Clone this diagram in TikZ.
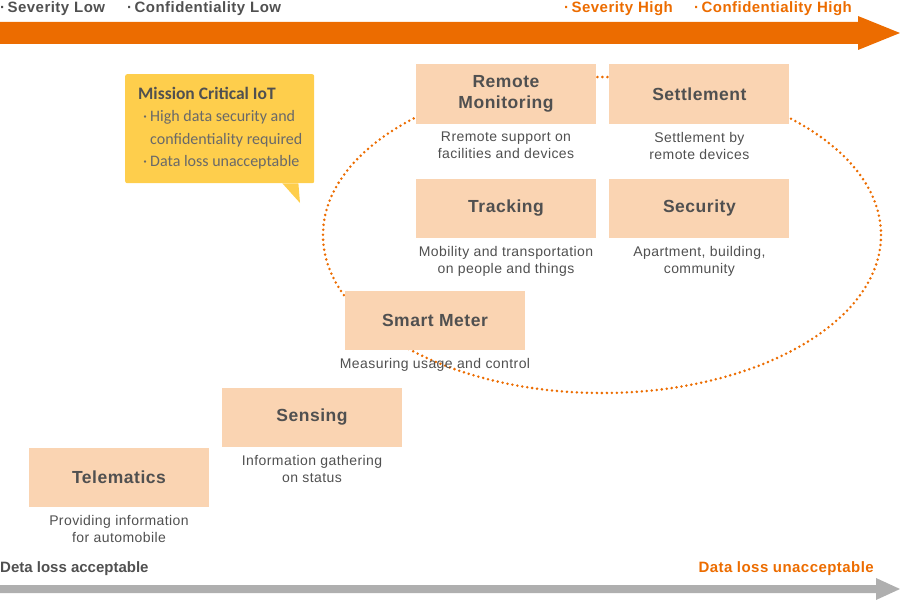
\documentclass[tikz,border=0pt]{standalone}
\usepackage{fontspec}
\setmainfont{Liberation Sans}
\newfontfamily\widefont{Liberation Sans}[LetterSpace=3]
\newfontfamily\calloutfont{Carlito}
\usepackage{tikz}
\usetikzlibrary{positioning, calc}

\definecolor{iotorange}{RGB}{236,108,0}
\definecolor{boxfill}{RGB}{250,212,178}
\definecolor{calloutfill}{RGB}{254,206,76}
\definecolor{axisgray}{RGB}{175,175,175}
\definecolor{textdark}{RGB}{80,80,80}
\definecolor{textsoft}{RGB}{105,105,105}

\begin{document}
\begin{tikzpicture}[
  x=1pt, y=-1pt,
  node distance=8pt and 13pt,
  item/.style={fill=boxfill, minimum width=180pt, minimum height=59pt, inner sep=0pt, align=center, text=textdark, font=\widefont\fontsize{17.5}{21}\selectfont\bfseries},
  note/.style={inner sep=0pt, align=center, text=textdark, font=\widefont\fontsize{14}{17}\selectfont},
  ring/.style={draw=iotorange, line width=2.8pt, line cap=round, dash pattern=on 0pt off 5pt},
  axislabel/.style={inner sep=0pt, anchor=west, font=\widefont\fontsize{15}{18}\selectfont\bfseries},
  bubble/.style={fill=calloutfill, rounded corners=2pt, minimum width=189pt, minimum height=109pt, inner sep=0pt},
  bubbletext/.style={inner sep=0pt, align=left, text=textsoft, font=\calloutfont\fontsize{16}{22.5}\selectfont}
]
\useasboundingbox (0,0) rectangle (900,602);

\fill[iotorange] (0,22) -- (858,22) -- (858,16) -- (900,33) -- (858,50) -- (858,44) -- (0,44) -- cycle;
\fill[axisgray] (0,585) -- (876,585) -- (876,578) -- (900,589) -- (876,600) -- (876,593) -- (0,593) -- cycle;

\node[axislabel, text=textdark] (sevlow) at (0,9) {·\,Severity\hspace{5pt}Low};
\node[axislabel, text=textdark] (conflow) at (127,9) {·\,Confidentiality\hspace{5pt}Low};
\node[axislabel, text=iotorange] (sevhigh) at (564,9) {·\,Severity\hspace{5pt}High};
\node[axislabel, text=iotorange] (confhigh) at (694,9) {·\,Confidentiality\hspace{5pt}High};
\node[axislabel, text=textdark, font=\fontsize{15}{18}\selectfont\bfseries] (lossok) at (0,569) {Deta loss acceptable};
\node[axislabel, text=iotorange, anchor=east] (lossbad) at (874,569) {Data loss unacceptable};

\draw[ring] (602,235) ellipse [x radius=279, y radius=158];

\node[item] (remote) at (506,94) {Remote\\Monitoring};
\node[item, right=of remote] (settle) {Settlement};
\node[item, below=55pt of remote] (track) {Tracking};
\node[item, right=of track] (secure) {Security};
\node[item] (meter) at (435,320) {Smart Meter};
\node[item] (sense) at (312,417) {Sensing};
\node[item] (telem) at (119,477) {Telematics};

\node[note, below=of remote] (remotenote) {Rremote support on\\facilities and devices};
\node[note, below=of settle] (settlenote) {Settlement by\\remote devices};
\node[note, below=of track] (tracknote) {Mobility and transportation\\on people and things};
\node[note, below=of secure] (securenote) {Apartment, building,\\community};
\node[note, below=of meter] (meternote) {Measuring usage and control};
\node[note, below=of sense] (sensenote) {Information gathering\\on status};
\node[note, below=of telem] (telemnote) {Providing information\\for automobile};

\node[bubble, anchor=north west] (mission) at (125,74) {};
\coordinate (missiontip) at (300,203);
\fill[calloutfill] ($(mission.south east)+(-32,0)$) -- (missiontip) -- ($(mission.south east)+(-16,0)$) -- cycle;
\node[bubbletext, anchor=north west] (missiontext) at (138,86.5) {{\color{textdark}\bfseries\fontsize{17.5}{20}\selectfont Mission Critical IoT}\\
\hspace*{5pt}·\hspace{3pt}High data security and\\
\hspace*{12pt}confidentiality required\\
\hspace*{5pt}·\hspace{3pt}Data loss unacceptable};
\end{tikzpicture}
\end{document}
